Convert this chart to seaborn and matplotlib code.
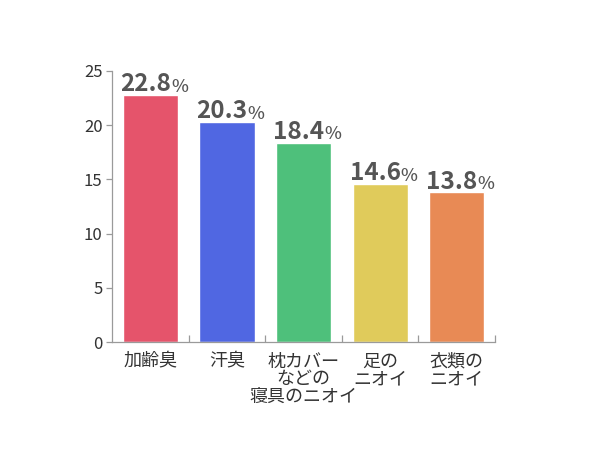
import matplotlib
matplotlib.use("Agg")
import matplotlib.pyplot as plt
import seaborn as sns
import pandas as pd

# data
categories = ["加齢臭", "汗臭", "枕カバー\nなどの\n寝具のニオイ", "足の\nニオイ", "衣類の\nニオイ"]
values = [22.8, 20.3, 18.4, 14.6, 13.8]
colors = ["#E5546B", "#5067E2", "#4EC07B", "#E0CB5B", "#E88A55"]
yticks = [0, 5, 10, 15, 20, 25]

sns.set_style("white")
plt.rcParams["font.family"] = ["Noto Sans CJK JP", "DejaVu Sans"]

df = pd.DataFrame({"cat": categories, "val": values})

fig = plt.figure(figsize=(6, 4.61), dpi=100)
ax = fig.add_axes([0.187, 0.258, 0.638, 0.588])

sns.barplot(data=df, x="cat", y="val", hue="cat", palette=colors,
            legend=False, width=0.72, saturation=1, ax=ax)

ax.set_xlim(-0.5, len(categories) - 0.5)
ax.set_ylim(0, 25)
ax.set_yticks(yticks)
ax.set_xlabel("")
ax.set_ylabel("")

for s in ["top", "right"]:
    ax.spines[s].set_visible(False)
for s in ["left", "bottom"]:
    ax.spines[s].set_color("#9a9a9a")
    ax.spines[s].set_linewidth(0.9)

ax.tick_params(axis="y", left=True, length=4, color="#9a9a9a", width=0.9,
               labelsize=12, labelcolor="#333333", pad=3)
ax.set_yticklabels([str(t) for t in yticks])

# category labels, boundary ticks pointing up
ax.set_xticks(range(len(categories)))
ax.set_xticklabels(categories, fontsize=13, color="#333333", linespacing=0.98)
ax.tick_params(axis="x", bottom=False, pad=4)
ax.set_xticks([i + 0.5 for i in range(len(categories))], minor=True)
ax.tick_params(axis="x", which="minor", bottom=True, direction="in",
               length=5, color="#9a9a9a", width=0.9)

# value labels
for i, v in enumerate(values):
    t = ax.annotate(f"{v:.1f}", (i, v), xytext=(-3.6, 2.5), textcoords="offset points",
                    ha="center", va="baseline", fontsize=17.5, fontweight="bold",
                    color="#555555")
    ax.annotate("%", xy=(1, 0), xycoords=t, xytext=(0, 0.5), textcoords="offset points",
                ha="left", va="bottom", fontsize=13, fontweight="medium",
                color="#555555")

fig.savefig("out.png", dpi=100)
